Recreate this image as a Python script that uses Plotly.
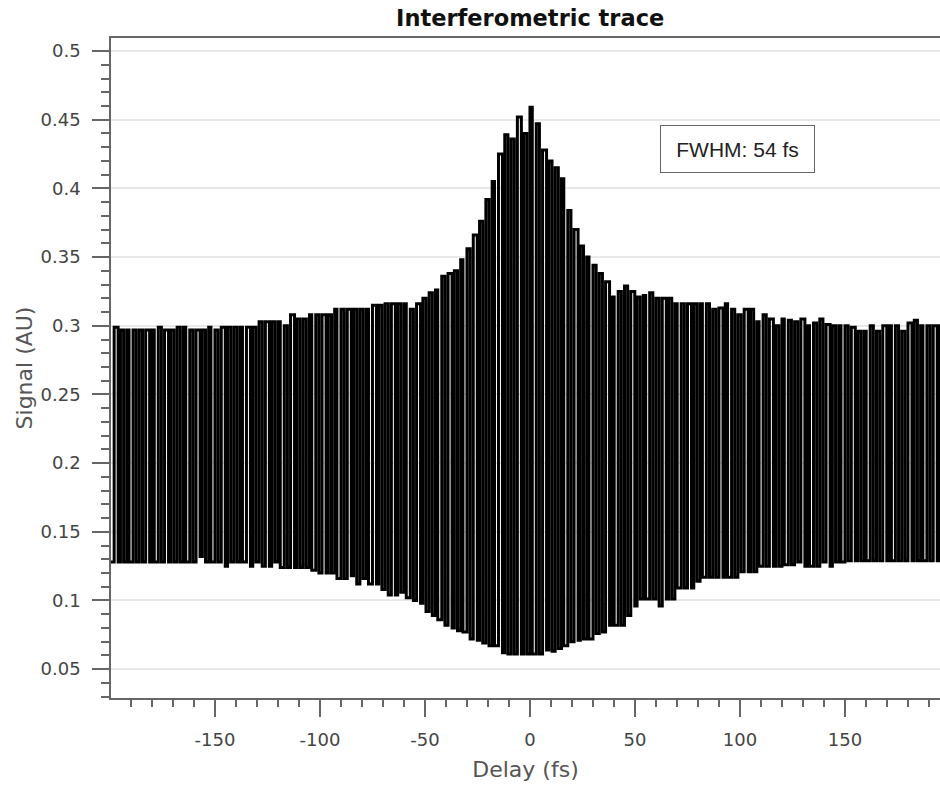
import plotly.graph_objects as go

# ---- data ----
peak_delay = [-198, -195, -192, -189, -186, -183, -180, -177, -174, -171,
              -168, -165, -162, -159, -156, -153, -150, -147, -144, -141,
              -138, -135, -132, -129, -126, -123, -120, -117, -114, -111,
              -108, -105, -102, -99, -96, -93, -90, -87, -84, -81,
              -78, -75, -72, -69, -66, -63, -60, -57, -54, -51,
              -48, -45, -42, -39, -36, -33, -30, -27, -24, -21,
              -18, -15, -12, -9, -6, -3, 0, 3, 6, 9,
              12, 15, 18, 21, 24, 27, 30, 33, 36, 39,
              42, 45, 48, 51, 54, 57, 60, 63, 66, 69,
              72, 75, 78, 81, 84, 87, 90, 93, 96, 99,
              102, 105, 108, 111, 114, 117, 120, 123, 126, 129,
              132, 135, 138, 141, 144, 147, 150, 153, 156, 159,
              162, 165, 168, 171, 174, 177, 180, 183, 186, 189,
              192, 195]
peak_signal = [0.299, 0.297, 0.297, 0.297, 0.297, 0.297, 0.297, 0.299, 0.297, 0.297,
               0.299, 0.299, 0.297, 0.297, 0.297, 0.299, 0.297, 0.299, 0.299, 0.299,
               0.299, 0.299, 0.299, 0.303, 0.303, 0.303, 0.303, 0.300, 0.308, 0.305,
               0.305, 0.308, 0.308, 0.308, 0.308, 0.312, 0.312, 0.312, 0.312, 0.312,
               0.312, 0.315, 0.315, 0.316, 0.316, 0.316, 0.316, 0.312, 0.316, 0.320,
               0.324, 0.326, 0.336, 0.338, 0.340, 0.348, 0.356, 0.366, 0.376, 0.392,
               0.405, 0.425, 0.439, 0.436, 0.452, 0.440, 0.459, 0.447, 0.428, 0.420,
               0.415, 0.407, 0.384, 0.370, 0.358, 0.350, 0.344, 0.338, 0.332, 0.321,
               0.325, 0.329, 0.325, 0.321, 0.322, 0.324, 0.320, 0.320, 0.320, 0.316,
               0.316, 0.316, 0.316, 0.316, 0.316, 0.312, 0.313, 0.316, 0.312, 0.308,
               0.312, 0.312, 0.303, 0.308, 0.305, 0.300, 0.305, 0.304, 0.303, 0.305,
               0.300, 0.302, 0.305, 0.301, 0.300, 0.300, 0.300, 0.299, 0.296, 0.296,
               0.300, 0.296, 0.300, 0.300, 0.300, 0.296, 0.302, 0.304, 0.300, 0.300,
               0.300, 0.300]
trough_delay = [-199.5, -196.1, -193.5, -190.9, -187.5, -184.5, -181.1, -178.9, -175.5, -172.1,
                -169.5, -166.5, -163.9, -160.5, -157.1, -154.5, -151.9, -148.5, -145.1, -142.5,
                -139.5, -136.9, -133.1, -130.5, -127.5, -124.1, -121.5, -118.9, -115.5, -112.1,
                -109.5, -106.5, -103.9, -100.5, -97.1, -94.5, -91.9, -88.5, -85.1, -82.5,
                -79.5, -76.9, -73.1, -70.5, -67.5, -64.1, -61.5, -58.9, -55.5, -52.1,
                -49.5, -46.5, -43.9, -40.5, -37.1, -34.5, -31.9, -28.5, -25.1, -22.5,
                -19.5, -16.9, -13.1, -10.5, -7.5, -4.1, -1.5, 1.1, 4.5, 7.9,
                10.5, 13.5, 16.1, 19.5, 22.9, 25.5, 28.1, 31.5, 34.5, 37.9,
                40.1, 43.5, 46.5, 49.9, 52.5, 55.1, 58.5, 61.5, 64.9, 67.5,
                70.1, 73.5, 76.9, 79.5, 82.1, 85.5, 88.5, 91.9, 94.1, 97.5,
                100.5, 103.9, 106.5, 109.1, 112.5, 115.9, 118.5, 121.1, 124.5, 127.5,
                130.9, 133.1, 136.5, 139.5, 142.9, 145.5, 148.1, 151.5, 154.9, 157.5,
                160.1, 163.5, 166.5, 169.9, 172.1, 175.5, 178.5, 181.9, 184.5, 187.1,
                190.5, 193.9, 196.5]
trough_signal = [0.128, 0.128, 0.128, 0.128, 0.128, 0.128, 0.128, 0.128, 0.128, 0.128,
                 0.128, 0.128, 0.128, 0.128, 0.132, 0.128, 0.128, 0.128, 0.125, 0.128,
                 0.128, 0.128, 0.125, 0.128, 0.125, 0.125, 0.128, 0.124, 0.124, 0.124,
                 0.124, 0.124, 0.122, 0.120, 0.120, 0.120, 0.116, 0.116, 0.118, 0.112,
                 0.116, 0.112, 0.112, 0.108, 0.104, 0.104, 0.106, 0.102, 0.100, 0.098,
                 0.092, 0.089, 0.086, 0.082, 0.080, 0.078, 0.077, 0.072, 0.071, 0.069,
                 0.067, 0.067, 0.062, 0.061, 0.061, 0.061, 0.061, 0.061, 0.061, 0.064,
                 0.063, 0.065, 0.067, 0.070, 0.071, 0.072, 0.072, 0.076, 0.077, 0.082,
                 0.082, 0.082, 0.089, 0.096, 0.101, 0.101, 0.101, 0.096, 0.101, 0.101,
                 0.109, 0.109, 0.109, 0.114, 0.117, 0.117, 0.117, 0.117, 0.117, 0.117,
                 0.121, 0.121, 0.121, 0.125, 0.125, 0.125, 0.125, 0.126, 0.126, 0.128,
                 0.125, 0.125, 0.125, 0.128, 0.125, 0.128, 0.128, 0.129, 0.129, 0.129,
                 0.129, 0.129, 0.129, 0.129, 0.129, 0.129, 0.129, 0.129, 0.129, 0.129,
                 0.129, 0.129, 0.129]

x_tick_values = [-150, -100, -50, 0, 50, 100, 150]
x_tick_labels = ["-150", "-100", "-50", "0", "50", "100", "150"]
y_tick_values = [0.05, 0.1, 0.15, 0.2, 0.25, 0.3, 0.35, 0.4, 0.45, 0.5]
y_tick_labels = ["0.05", "0.1", "0.15", "0.2", "0.25", "0.3", "0.35", "0.4", "0.45", "0.5"]
fwhm_text = "FWHM: 54 fs"

# interleave troughs and peaks into one trace (trough, peak, trough, ...)
xs, ys = [], []
for i in range(len(peak_delay)):
    xs.append(trough_delay[i]); ys.append(trough_signal[i])
    xs.append(peak_delay[i]); ys.append(peak_signal[i])
xs.append(trough_delay[-1]); ys.append(trough_signal[-1])

SANS = "DejaVu Sans, Verdana, sans-serif"
HELV = "Liberation Sans, Arial, Helvetica, sans-serif"
AXC = "#666666"

fig = go.Figure()
fig.add_trace(go.Scatter(x=xs, y=ys, mode="lines",
                         line=dict(color="black", width=3, shape="hv"),
                         hoverinfo="skip", showlegend=False))

fig.update_layout(
    width=940, height=785,
    margin=dict(l=111, r=0, t=38, b=87),
    paper_bgcolor="white", plot_bgcolor="white",
    font=dict(family=SANS, size=18, color="#444444"),
    title=dict(text="<b>Interferometric trace</b>", font=dict(size=22.5, color="#111111", family=SANS),
               xref="container", yref="container", x=0.564, xanchor="center",
               y=0.977, yanchor="middle"),
    showlegend=False,
)

fig.update_xaxes(
    range=[-199.5, 195.24],
    tickvals=x_tick_values, ticktext=x_tick_labels,
    ticks="outside", ticklen=17, tickwidth=1.5, tickcolor=AXC,
    minor=dict(dtick=10, tick0=0, ticks="outside", ticklen=7, tickwidth=1.5, tickcolor=AXC, showgrid=False),
    showline=True, linecolor=AXC, linewidth=1.5, mirror=True,
    showgrid=False, zeroline=False,
    tickfont=dict(size=18, color="#444444", family=SANS),
    ticklabelstandoff=8,
    title=dict(text="Delay (fs)", font=dict(size=22, color="#555555", family=SANS), standoff=12),
)
fig.update_yaxes(
    range=[0.029, 0.5095],
    tickvals=y_tick_values, ticktext=y_tick_labels,
    ticks="outside", ticklen=17, tickwidth=1.5, tickcolor=AXC,
    minor=dict(dtick=0.01, tick0=0, ticks="outside", ticklen=8, tickwidth=1.5, tickcolor=AXC, showgrid=False),
    showline=True, linecolor=AXC, linewidth=1.5,
    showgrid=True, gridcolor="#e8e8e8", gridwidth=2, zeroline=False,
    tickfont=dict(size=18, color="#444444", family=SANS),
    ticklabelstandoff=8,
    title=dict(text="Signal (AU)", font=dict(size=22, color="#555555", family=SANS), standoff=2),
)

fig.add_annotation(
    x=98.8, y=0.4287, xref="x", yref="y", text=fwhm_text, showarrow=False,
    font=dict(size=21, color="#222222", family=HELV),
    bgcolor="white", bordercolor="#666666", borderwidth=1,
    width=151, height=44, align="center", valign="middle",
)

fig.write_html("out.html", config={"displayModeBar": False},
               post_script="document.body.style.margin='0';document.body.style.overflow='hidden';")
